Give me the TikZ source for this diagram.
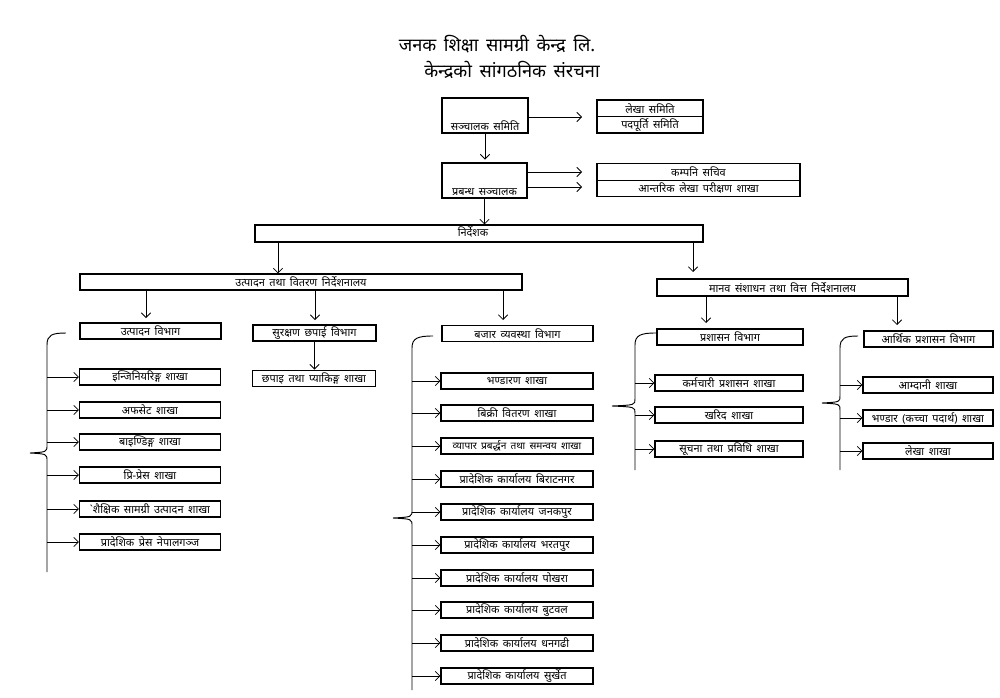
\documentclass[tikz,border=0pt]{standalone}
\usepackage{fontspec}
\newfontfamily\dev[Script=Devanagari,WordSpace=2.0]{Noto Sans}
\newfontfamily\devt[Script=Devanagari,WordSpace=1.6]{Noto Sans}
\usetikzlibrary{arrows.meta}
\tikzset{
  box/.style={draw, line width=0.9pt, inner sep=0pt, font=\dev\fontsize{9.3}{10}\selectfont},
  lbl/.style={inner sep=1pt, font=\dev\fontsize{9.3}{10}\selectfont},
  arr/.style={line width=0.7pt, -{Straight Barb[length=4pt,width=8pt]}},
  brace/.style={line width=0.8pt},
  lw/.style={box, minimum width=4.23cm, minimum height=0.48cm},
  bw/.style={box, minimum width=4.56cm, minimum height=0.48cm},
  pw/.style={box, minimum width=4.44cm, minimum height=0.48cm},
  aw/.style={box, minimum width=3.9cm, minimum height=0.48cm},
  ttl/.style={font=\devt\fontsize{15.5}{17}\selectfont, inner sep=0pt},
}
\begin{document}
\begin{tikzpicture}[x=0.03cm,y=-0.03cm]
\useasboundingbox (0,0) rectangle (1000,698);
\fill[white] (0,0) rectangle (1000,698);
% title
\node[ttl] (t1) at (497,44) {जनक शिक्षा सामग्री केन्द्र लि.};
\node[ttl] (t2) at (512,70) {केन्द्रको सांगठनिक संरचना};
% top
\node[box, minimum width=2.58cm, minimum height=1.05cm] (ss) at (485,115.5) {};
\node[lbl, above=1pt] (ssl) at (ss.south) {सञ्चालक समिति};
\node[box, minimum width=3.18cm, minimum height=0.495cm] (ls) at (650,108.25) {लेखा समिति};
\node[box, minimum width=3.18cm, minimum height=0.495cm] (ps) at (650,124.75) {पदपूर्ति समिति};
\draw[arr] (ss.east |- 0,117) coordinate (sa) -- (582,117) coordinate (sb);
\node[box, minimum width=2.55cm, minimum height=1.05cm] (pr) at (484.5,180.5) {};
\node[lbl, above=1pt] (prl) at (pr.south) {प्रबन्ध सञ्चालक};
\node[box, minimum width=6.09cm, minimum height=0.495cm] (ks) at (698.5,172) {कम्पनि सचिव};
\node[box, minimum width=6.09cm, minimum height=0.495cm] (al) at (698.5,188.5) {आन्तरिक लेखा परीक्षण शाखा};
\draw[arr] (pr.east |- 0,172) -- (582,172);
\draw[arr] (pr.east |- 0,187) -- (582,187);
\draw[arr] (ss.south) -- ++(0,26);
\node[box, minimum width=13.44cm, minimum height=0.51cm] (nd) at (479,233.5) {};
\node[lbl] (ndl) at (473,232) {निर्देशक};
\draw[arr] (pr.south) -- (nd.north -| pr.south);
% directorates
\node[box, minimum width=13.26cm, minimum height=0.48cm] (ut) at (301,282) {उत्पादन तथा वितरण निर्देशनालय};
\node[box, minimum width=7.53cm, minimum height=0.51cm] (mn) at (782.5,287.5) {मानव संशाधन तथा वित्त निर्देशनालय};
\draw[arr] (nd.south -| 278,0) -- (ut.north -| 278,0);
\draw[arr] (nd.south -| 693,0) -- (693,272);
% departments
\node[box, minimum width=4.23cm, minimum height=0.48cm] (uv) at (150.5,331) {उत्पादन विभाग};
\node[box, minimum width=3.69cm, minimum height=0.48cm] (sc) at (314.5,333) {सुरक्षण छपाई विभाग};
\node[box, minimum width=3.69cm, minimum height=0.5cm] (cp) at (314,378.5) {छपाइ तथा प्याकिङ्ग शाखा};
\node[box, minimum width=4.53cm, minimum height=0.5cm] (bz) at (517.5,333.5) {बजार व्यवस्था विभाग};
\draw[arr] (ut.south -| 146,0) -- (146,318);
\draw[arr] (ut.south -| 315,0) -- (315,320);
\draw[arr] (ut.south -| 503,0) -- (503,320);
\draw[arr] (sc.south) -- (cp.north -| sc.south);
\node[box, minimum width=4.38cm, minimum height=0.48cm] (pv) at (730,337) {प्रशासन विभाग};
\node[box, minimum width=3.87cm, minimum height=0.48cm] (av) at (928.5,339) {आर्थिक प्रशासन विभाग};
\draw[arr] (mn.south -| 706,0) -- (706,323);
\draw[arr] (mn.south -| 897,0) -- (897,325);
% left column
\node[lw] (l1) at (150,377) {इन्जिनियरिङ्ग शाखा};
\node[lw] (l2) at (150,410) {अफसेट शाखा};
\node[lw] (l3) at (150,442) {बाइण्डिङ्ग शाखा};
\node[lw] (l4) at (150,475) {प्रि-प्रेस शाखा};
\node[lw] (l5) at (150,509) {`शैक्षिक सामग्री उत्पादन शाखा};
\node[lw] (l6) at (150,542) {प्रादेशिक प्रेस नेपालगञ्ज};
\draw[brace] (66,333) .. controls (52,333) and (47,335) .. (47,345) -- (47,445) .. controls (47,452) .. (30,453) .. controls (47,454) .. (47,461) -- (47,572);
\foreach \n in {l1,l2,l3,l4,l5,l6} \draw[arr] (\n.west -| 47,0) -- (\n.west);
% bazar column
\node[bw] (b1) at (517,381) {भण्डारण शाखा};
\node[bw] (b2) at (517,413) {बिक्री वितरण शाखा};
\node[bw, font=\dev\fontsize{8.6}{9}\selectfont] (b3) at (517,446) {व्यापार प्रबर्द्धन तथा समन्वय शाखा};
\node[bw] (b4) at (517,479) {प्रादेशिक कार्यालय बिराटनगर};
\node[bw] (b5) at (517,512) {प्रादेशिक कार्यालय जनकपुर};
\node[bw] (b6) at (517,545) {प्रादेशिक कार्यालय भरतपुर};
\node[bw] (b7) at (517,578) {प्रादेशिक कार्यालय पोखरा};
\node[bw] (b8) at (517,610) {प्रादेशिक कार्यालय बुटवल};
\node[bw] (b9) at (517,643) {प्रादेशिक कार्यालय धनगढी};
\node[bw] (b10) at (517,676) {प्रादेशिक कार्यालय सुर्खेत};
\draw[brace] (433,336) .. controls (418,336) and (412,338) .. (412,348) -- (412,510) .. controls (412,517) .. (393,518) .. controls (412,519) .. (412,526) -- (412,690);
\foreach \n in {b1,b2,b3,b4,b5,b6,b7,b8,b9,b10} \draw[arr] (\n.west -| 412,0) -- (\n.west);
% prashasan column
\node[pw] (p1) at (729,383) {कर्मचारी प्रशासन शाखा};
\node[pw] (p2) at (729,415) {खरिद शाखा};
\node[pw] (p3) at (729,449) {सूचना तथा प्रविधि शाखा};
\draw[brace] (656,333) .. controls (641,333) and (635,335) .. (635,345) -- (635,399) .. controls (635,405) .. (612,406) .. controls (635,407) .. (635,413) -- (635,470);
\foreach \n in {p1,p2,p3} \draw[arr] (\n.west -| 635,0) -- (\n.west);
% arthik column
\node[aw] (a1) at (928,385) {आम्दानी शाखा};
\node[aw] (a2) at (928,418) {भण्डार (कच्चा पदार्थ) शाखा};
\node[aw] (a3) at (928,451) {लेखा शाखा};
\draw[brace] (858,336) .. controls (845,336) and (840,338) .. (840,348) -- (840,396) .. controls (840,402) .. (822,403) .. controls (840,404) .. (840,410) -- (840,470);
\foreach \n in {a1,a2,a3} \draw[arr] (\n.west -| 840,0) -- (\n.west);
\end{tikzpicture}
\end{document}
